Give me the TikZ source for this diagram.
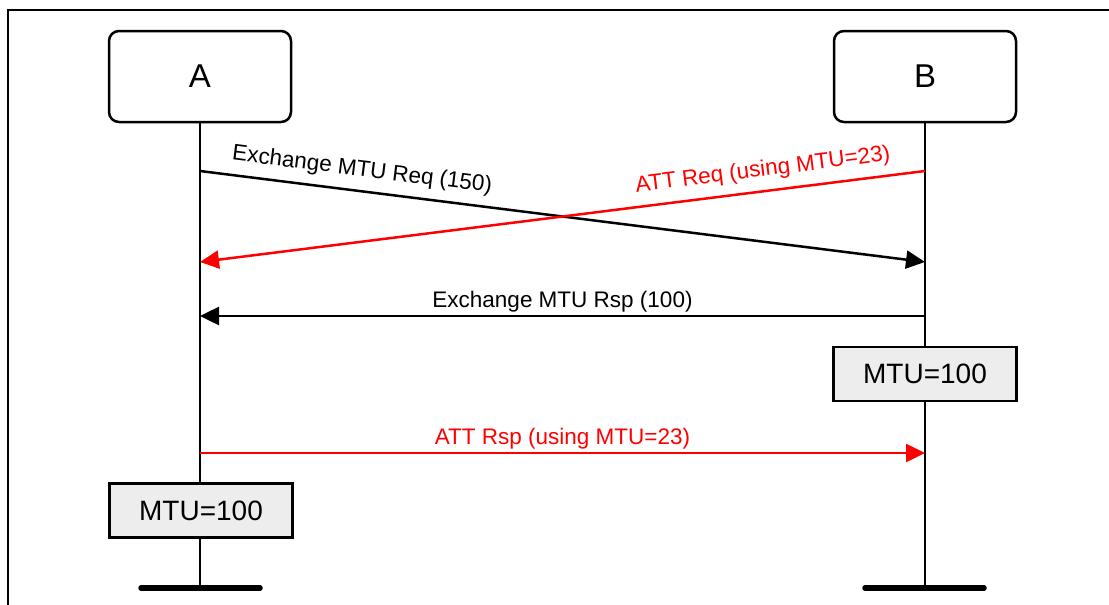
\documentclass[tikz,border=0pt]{standalone}
\usepackage{fontspec}
\setmainfont{Liberation Sans}
\usetikzlibrary{arrows.meta}

\begin{document}
\begin{tikzpicture}[
    x=0.5pt, y=-0.5pt,
    party/.style={draw, line width=1.25pt, rounded corners=5pt, minimum width=91pt,
                  minimum height=45.5pt, font=\fontsize{16.5}{20}\selectfont},
    mtubox/.style={draw, line width=1.25pt, fill=black!7, minimum width=91.5pt,
                   minimum height=27pt, font=\fontsize{14}{17}\selectfont},
    msg/.style={line width=1.25pt, -{Triangle[length=9.5pt, width=9pt]}},
    lbl/.style={font=\fontsize{11.25}{13}\selectfont, inner sep=1.5pt},
    lifeline/.style={line width=1.25pt},
    endbar/.style={line width=2.75pt, line cap=round}
]
\useasboundingbox (0,0) rectangle (1109,605);
\draw[line width=1.25pt] (8,610) -- (8,10) -- (1115,10);

% parties and lifelines
\node[party] (A) at (200,76.5) {A};
\node[party] (B) at (925,76.5) {B};
\coordinate (Aend) at (200,588);
\coordinate (Bend) at (925,588);
\draw[lifeline] (A) -- (Aend);
\draw[lifeline] (B) -- (Bend);
\draw[endbar] (141,588) -- (260,588);
\draw[endbar] (865,588) -- (984,588);

% message points
\coordinate (a1) at (200,171);
\coordinate (b1) at (925,171);
\coordinate (a2) at (200,262);
\coordinate (b2) at (925,262);
\coordinate (a3) at (200,316);
\coordinate (b3) at (925,316);
\coordinate (a4) at (200,453);
\coordinate (b4) at (925,453);

\draw[msg]      (a1) -- node[lbl, sloped, above=3pt, pos=0.22] {Exchange MTU Req (150)} (b2);
\draw[msg, red] (b1) -- node[lbl, sloped, above=3pt, pos=0.22] {ATT Req (using MTU=23)} (a2);
\draw[msg]      (b3) -- node[lbl, above] {Exchange MTU Rsp (100)} (a3);
\draw[msg, red] (a4) -- node[lbl, above] {ATT Rsp (using MTU=23)} (b4);

% MTU states
\node[mtubox] (mtuB) at (925,374) {MTU=100};
\node[mtubox] (mtuA) at (201,510.5) {MTU=100};
\end{tikzpicture}
\end{document}
